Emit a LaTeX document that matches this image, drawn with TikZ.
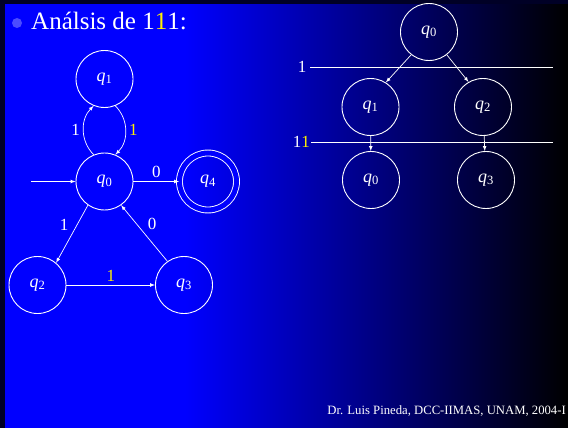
\documentclass[tikz,border=0pt]{standalone}
\usepackage{fontspec}
\setmainfont{Liberation Serif}
\usetikzlibrary{arrows}
\pgfdeclarehorizontalshading{slide}{100bp}{color(0bp)=(blue); color(41bp)=(blue); color(75bp)=(black); color(100bp)=(black)}
\newcommand{\qst}[1]{\textit{q}\textsubscript{#1}}
\tikzset{
  state/.style={draw=white, line width=0.9pt, shape=circle, minimum size=57pt, inner sep=0pt, text=white, font=\fontsize{18}{20}\selectfont},
  accept/.style={state, double=blue, double distance=5pt},
  edge/.style={draw=white, line width=0.7pt, ->, >=latex},
  lbl/.style={text=white, font=\fontsize{17}{19}\selectfont},
  cut/.style={draw=white, line width=0.7pt}
}
\begin{document}
\begin{tikzpicture}[x=1pt,y=-1pt]
   \fill[black!85!blue] (0,0) rectangle (568,428);
   \fill[shading=slide] (5,5) rectangle (568,428);
   \useasboundingbox (0,0) rectangle (568,428);
   \fill[blue!70!white] (17,23) circle (5);
   \path (31,30) node[anchor=base west, text=white, font=\fontsize{25}{30}\selectfont, inner sep=0pt] (title)
   {An\'alsis de 1{\color{yellow}1}1:};
   \path (104.5,79) node[state] (q1) {\qst{1}};
   \path (104.5,181.5) node[state] (q0) {\qst{0}};
   \path (208,181.5) node[accept] (q4) {\qst{4}};
   \path (37.5,285) node[state] (q2) {\qst{2}};
   \path (184,285) node[state] (q3) {\qst{3}};
   \coordinate (start) at (31,181.5);
   \draw[edge] (start) -- (q0);
   \draw[edge] (q0) -- node[lbl, above] {0} (q4);
   \draw[edge] (q0.112) to[bend left=45] node[lbl, left] {1} (q1.248);
   \draw[edge] (q1.292) to[bend left=45] node[lbl, right, text=yellow] {1} (q0.68);
   \draw[edge] (q0.235) -- node[lbl, above left] {1} (q2.50);
   \draw[edge] (q3.125) -- node[lbl, above right] {0} (q0.305);
   \draw[edge] (q2) -- node[lbl, above, text=yellow] {1} (q3);
   \path (429,32) node[state] (r0) {\qst{0}};
   \path (370.5,107) node[state] (r1) {\qst{1}};
   \path (483,107) node[state] (r2) {\qst{2}};
   \path (371,180) node[state] (s0) {\qst{0}};
   \path (486,180) node[state] (s3) {\qst{3}};
   \coordinate (c1a) at (310,67);
   \coordinate (c1b) at (553,67);
   \coordinate (c2a) at (311,142);
   \coordinate (c2b) at (553,142);
   \draw[cut] (c1a) -- (c1b);
   \draw[cut] (c2a) -- (c2b);
   \path (c1a) node[lbl, left] (in1) {1};
   \path (c2a) node[lbl, left, inner sep=1pt] (in2) {1{\color{yellow}1}};
   \draw[edge] (r0.232) -- (r1.58);
   \draw[edge] (r0.308) -- (r2.120);
   \draw[edge] (r1) -- (s0);
   \draw[edge] (r2) -- (s3);
   \path (566,414) node[anchor=base east, inner sep=0pt, text=white, font=\fontsize{12.7}{14}\selectfont] (credit)
   {Dr. Luis Pineda, DCC-IIMAS, UNAM, 2004-I};
\end{tikzpicture}
\end{document}
